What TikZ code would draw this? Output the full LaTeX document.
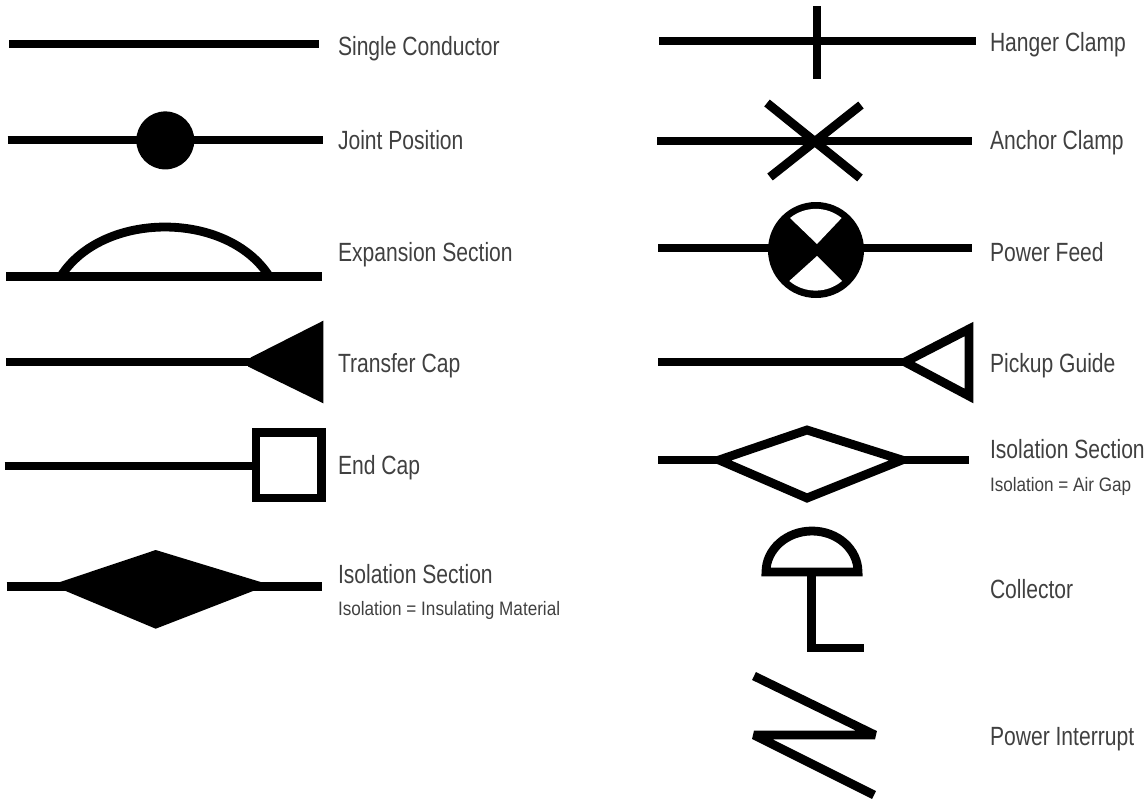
\documentclass[tikz,border=0pt]{standalone}
\usepackage{fontspec}
\setmainfont[FakeStretch=0.80]{Liberation Sans}
\newfontfamily\subfont[FakeStretch=0.88]{Liberation Sans}
\begin{document}
\begin{tikzpicture}[x=.03cm,y=-.03cm,line join=miter,font=\fontsize{22.5}{27}\selectfont,
	symb/.style={line width=8.8*.03cm},
	lab/.style={anchor=base west,inner sep=0pt,outer sep=0pt,text=black!75},
	sublab/.style={anchor=base west,inner sep=0pt,outer sep=0pt,text=black!75,font=\subfont\fontsize{16.6}{20}\selectfont}]
	\useasboundingbox (0,0) rectangle (1144,804);
	% left column
	\draw[symb] (9,44)--(319,44);
	\node[lab] (single) at (338,55) {Single Conductor};
	\draw[symb] (7.5,140)--(323,140);
	\fill (165.3,140.4) circle (29);
	\node[lab] (joint) at (338,149) {Joint Position};
	\draw[symb] (6,276.3)--(322,276.3);
	\draw[symb] (61,276) .. controls (103,210.7) and (227,210.7) .. (269,276);
	\node[lab] (expansion) at (338,261) {Expansion Section};
	\draw[symb] (6,362)--(255,362);
	\fill (250.7,357.5)--(323.3,320.7)--(323.3,403.3)--(248,366.5)--cycle;
	\node[lab] (transfer) at (338,372) {Transfer Cap};
	\draw[symb] (4.5,466)--(256,466);
	\draw[symb] (256,432.5) rectangle (321.5,498);
	\node[lab] (endcap) at (338,474) {End Cap};
	\draw[symb] (6.5,586.7)--(322,586.7);
	\fill (58,582.7)--(155.7,550)--(263,582.7)--(253,591)--(155.7,628.7)--(65.7,591)--cycle;
	\node[lab] (isoa) at (338,583) {Isolation Section};
	\node[sublab] (isoasub) at (338,615) {Isolation = Insulating Material};
	% right column
	\draw[symb] (659,41)--(976,41);
	\draw[symb] (817,6)--(817,79);
	\node[lab] (hanger) at (990,51) {Hanger Clamp};
	\draw[symb] (657,141)--(972,141);
	\draw[symb] (767,103)--(860,178);
	\draw[symb] (770,177)--(861,105);
	\node[lab] (anchorc) at (990,149.5) {Anchor Clamp};
	\draw[symb] (658,248)--(972,248);
	\fill (816,250) circle (48);
	\fill[white] (817,244)--(790,218) arc (231:309:41)--cycle;
	\fill[white] (817,256)--(842,281) arc (50:130:41)--cycle;
	\node[lab] (feed) at (990,261) {Power Feed};
	\draw[symb] (658,362)--(905,362);
	\draw[symb] (905,362)--(969,329)--(969,396)--cycle;
	\node[lab] (pickup) at (990,372) {Pickup Guide};
	\draw[symb] (658,460)--(719,460);
	\draw[symb] (902,460)--(969,460);
	\draw[symb] (719,460)--(807,430)--(902,460)--(807,498)--cycle;
	\node[lab] (isob) at (990,458) {Isolation Section};
	\node[sublab] (isobsub) at (990,491) {Isolation = Air Gap};
	\draw[symb] (766,572) arc (180:360:46 and 41)--cycle;
	\draw[symb] (811.5,572)--(811.5,648)--(864,648);
	\node[lab] (collector) at (990,598) {Collector};
	\draw[symb,line join=bevel] (754,676)--(875,735)--(754,735)--(874,795);
	\node[lab] (interrupt) at (990,745) {Power Interrupt};
\end{tikzpicture}
\end{document}
